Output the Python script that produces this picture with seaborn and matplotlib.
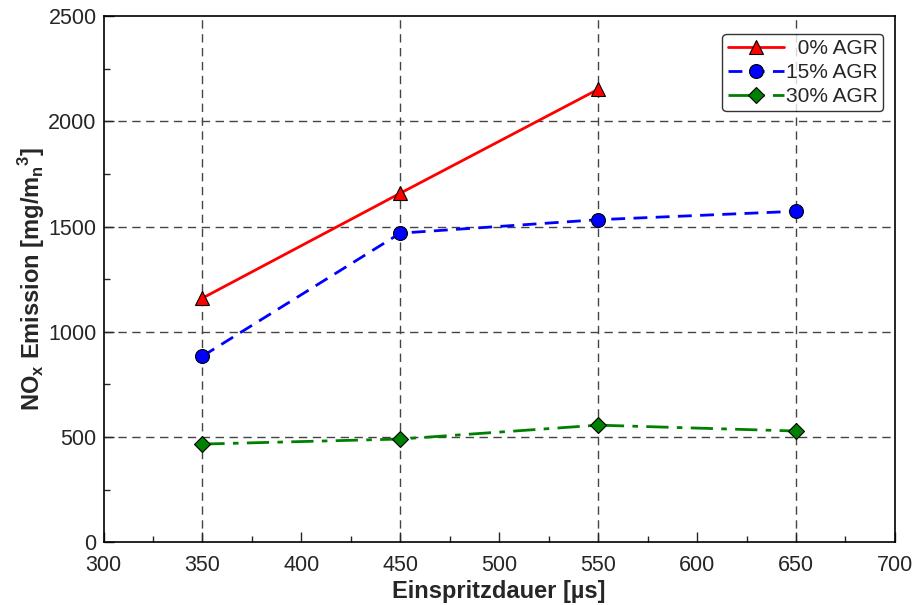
import matplotlib
matplotlib.use("Agg")
import matplotlib.pyplot as plt
import seaborn as sns
import pandas as pd
from matplotlib.ticker import MultipleLocator

x_vals = [350, 450, 550, 650]
agr0 = [1160, 1659, 2153]
agr15 = [884, 1469, 1533, 1573]
agr30 = [466, 490, 556, 528]
series_names = ["0% AGR", "15% AGR", "30% AGR"]

rows = []
for name, vals in zip(series_names, [agr0, agr15, agr30]):
    for xv, yv in zip(x_vals, vals):
        rows.append({"x": xv, "y": yv, "series": name})
df = pd.DataFrame(rows)

sns.set_theme(style="white")
plt.rcParams['font.family'] = ['Liberation Sans', 'DejaVu Sans']
plt.rcParams['mathtext.fontset'] = 'custom'
plt.rcParams['mathtext.rm'] = 'Liberation Sans'
plt.rcParams['mathtext.bf'] = 'Liberation Sans:bold'

fig, ax = plt.subplots(figsize=(9.16, 6.05), dpi=100)
fig.subplots_adjust(left=0.113, right=0.977, top=0.973, bottom=0.104)

for gx in [350, 450, 550, 650]:
    ax.axvline(gx, color='#444444', ls=(0, (6, 4)), lw=1.0, zorder=0)
for gy in [500, 1000, 1500, 2000]:
    ax.axhline(gy, color='#444444', ls=(0, (6, 4)), lw=1.0, zorder=0)

styles = {
    "0% AGR": dict(color='red', marker='^', ls='-', ms=10),
    "15% AGR": dict(color='blue', marker='o', ls=(0, (5, 3)), ms=10),
    "30% AGR": dict(color='green', marker='D', ls=(0, (8, 3, 2, 3)), ms=8),
}
legend_labels = {"0% AGR": "\u20070% AGR", "15% AGR": "15% AGR", "30% AGR": "30% AGR"}
for name in series_names:
    st = styles[name]
    sub = df[df.series == name]
    sns.lineplot(data=sub, x="x", y="y", ax=ax, color=st['color'], marker=st['marker'],
                 linestyle=st['ls'], markersize=st['ms'], markerfacecolor=st['color'],
                 markeredgecolor='black', markeredgewidth=0.8, lw=2, label=legend_labels[name])

ax.set_xlim(300, 700)
ax.set_ylim(0, 2500)
ax.xaxis.set_major_locator(MultipleLocator(50))
ax.xaxis.set_minor_locator(MultipleLocator(25))
ax.yaxis.set_major_locator(MultipleLocator(500))
ax.yaxis.set_minor_locator(MultipleLocator(250))
ax.tick_params(which='both', direction='in', top=False, right=False, bottom=True, left=True)
ax.tick_params(which='major', length=7, width=1, labelsize=15.5)
ax.tick_params(axis='x', which='major', pad=9)
ax.tick_params(axis='y', which='major', pad=5)
ax.tick_params(which='minor', length=4, width=1)
for sp in ax.spines.values():
    sp.set_color('black')
    sp.set_linewidth(1.2)

ax.set_xlabel("Einspritzdauer [µs]", fontsize=17, fontweight='bold', labelpad=3)
ax.set_ylabel(r"NO$_\mathbf{x}$ Emission [mg/m$_\mathbf{n}$$^\mathbf{3}$]", fontsize=17,
              fontweight='bold', labelpad=1)

leg = ax.legend(loc='upper right', fontsize=15, frameon=True, fancybox=True,
                edgecolor='black', handlelength=2.7, handletextpad=0.1,
                borderpad=0.25, labelspacing=0.25, borderaxespad=0.2,
                bbox_to_anchor=(0.99, 0.975))
leg.get_frame().set_linewidth(1.0)

fig.savefig("out.png", dpi=100)
